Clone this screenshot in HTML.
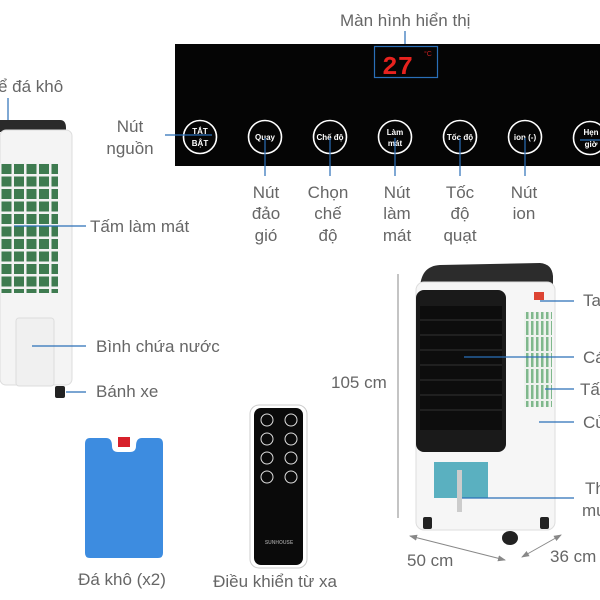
<!DOCTYPE html>
<html><head><meta charset="utf-8"><style>
html,body{margin:0;padding:0;background:#fff;width:600px;height:600px;overflow:hidden}
svg text{font-family:"Liberation Sans","DejaVu Sans",sans-serif;fill:#666;font-size:17px}
.b text{fill:#fff;font-size:8px;font-weight:bold;text-anchor:middle}
</style></head><body>
<svg width="600" height="600" viewBox="0 0 600 600" xmlns="http://www.w3.org/2000/svg">
<defs>
<pattern id="g" width="12.5" height="12.5" patternUnits="userSpaceOnUse"><rect width="12.5" height="12.5" fill="#f2f2f2"/><rect x="1.5" y="1.5" width="10" height="10" fill="#3e7b50"/></pattern>
<pattern id="g2" width="5" height="16" patternUnits="userSpaceOnUse"><rect width="5" height="16" fill="#eef2ee"/><rect x="1" y="1" width="2.5" height="14" fill="#7fb88c"/></pattern>
<marker id="ah" markerWidth="8" markerHeight="8" refX="7" refY="4" orient="auto-start-reverse"><path d="M0,1 L8,4 L0,7z" fill="#888"/></marker>
</defs>
<text x="340" y="26">Màn hình hiển thị</text>
<line x1="405" y1="31" x2="405" y2="46" stroke="#2a6fb8" stroke-width="1.2"/>
<rect x="175" y="44" width="425" height="122" fill="#050505"/>
<rect x="374.5" y="46.5" width="63" height="31" fill="none" stroke="#2a6fb8" stroke-width="1.2"/>
<text x="382" y="74" style="fill:#e8221e;font-size:26px;font-family:'Liberation Mono',monospace;font-weight:bold">27</text>
<text x="424" y="56" style="fill:#c02020;font-size:7px">°C</text>
<g fill="none" stroke="#fff" stroke-width="1.6">
<circle cx="200" cy="137" r="16.5"/><circle cx="265" cy="137" r="16.5"/><circle cx="330" cy="137" r="16.5"/><circle cx="395" cy="137" r="16.5"/><circle cx="460" cy="137" r="16.5"/><circle cx="525" cy="137" r="16.5"/><circle cx="590" cy="138" r="16.5"/>
</g>
<g class="b">
<text x="200" y="134">TẮT</text><text x="200" y="146">BẬT</text>
<text x="265" y="140">Quay</text><text x="330" y="140">Chế độ</text>
<text x="395" y="135">Làm</text><text x="395" y="146">mát</text>
<text x="460" y="140">Tốc độ</text><text x="525" y="140">ion (-)</text>
<text x="591" y="135">Hẹn</text><text x="591" y="147">giờ</text>
</g>
<g stroke="#2a6fb8" stroke-width="1.2">
<line x1="165" y1="135" x2="212" y2="135"/>
<line x1="265" y1="138" x2="265" y2="176"/><line x1="330" y1="138" x2="330" y2="176"/>
<line x1="395" y1="138" x2="395" y2="176"/><line x1="460" y1="138" x2="460" y2="176"/>
<line x1="525" y1="138" x2="525" y2="176"/><line x1="580" y1="140" x2="600" y2="140"/>
</g>
<text x="130" y="132" text-anchor="middle">Nút</text><text x="130" y="154" text-anchor="middle">nguồn</text>
<text x="266" y="198" text-anchor="middle">Nút</text><text x="266" y="219" text-anchor="middle">đảo</text><text x="266" y="241" text-anchor="middle">gió</text>
<text x="328" y="198" text-anchor="middle">Chọn</text><text x="328" y="219" text-anchor="middle">chế</text><text x="328" y="241" text-anchor="middle">độ</text>
<text x="397" y="198" text-anchor="middle">Nút</text><text x="397" y="219" text-anchor="middle">làm</text><text x="397" y="241" text-anchor="middle">mát</text>
<text x="460" y="198" text-anchor="middle">Tốc</text><text x="460" y="219" text-anchor="middle">độ</text><text x="460" y="241" text-anchor="middle">quạt</text>
<text x="524" y="198" text-anchor="middle">Nút</text><text x="524" y="219" text-anchor="middle">ion</text>
<text x="-2" y="92">ể đá khô</text>
<line x1="8" y1="98" x2="8" y2="121" stroke="#2a6fb8" stroke-width="1.2"/>
<path d="M0,120 H60 Q66,120 66,128 V132 H0z" fill="#2a2a2a"/>
<rect x="0" y="130" width="72" height="255" rx="6" fill="#f4f4f4" stroke="#ddd"/>
<rect x="0" y="163" width="58" height="130" fill="url(#g)"/>
<rect x="16" y="318" width="38" height="68" rx="3" fill="#f0f0f0" stroke="#ddd"/>
<rect x="55" y="386" width="10" height="12" rx="2" fill="#222"/>
<g stroke="#2a6fb8" stroke-width="1.2">
<line x1="14" y1="226" x2="86" y2="226"/><line x1="32" y1="346" x2="86" y2="346"/><line x1="66" y1="392" x2="86" y2="392"/>
</g>
<text x="90" y="232">Tấm làm mát</text>
<text x="96" y="352">Bình chứa nước</text>
<text x="96" y="397">Bánh xe</text>
<path d="M90,438 H106 Q112,438 112,446 Q112,452 118,452 H130 Q136,452 136,446 Q136,438 142,438 H158 Q163,438 163,444 V553 Q163,558 158,558 H90 Q85,558 85,553 V444 Q85,438 90,438z" fill="#3d8ce0"/>
<rect x="118" y="437" width="12" height="10" fill="#d7202a"/>
<text x="122" y="585" text-anchor="middle">Đá khô (x2)</text>
<rect x="250" y="405" width="57" height="163" rx="9" fill="#fff" stroke="#ccc"/>
<rect x="254" y="408" width="49" height="157" rx="7" fill="#0a0a0a"/>
<g fill="none" stroke="#ddd" stroke-width="1">
<circle cx="267" cy="420" r="6"/><circle cx="291" cy="420" r="6"/><circle cx="267" cy="439" r="6"/><circle cx="291" cy="439" r="6"/><circle cx="267" cy="458" r="6"/><circle cx="291" cy="458" r="6"/><circle cx="267" cy="477" r="6"/><circle cx="291" cy="477" r="6"/>
</g>
<text x="279" y="544" text-anchor="middle" style="fill:#888;font-size:5px;font-weight:bold">SUNHOUSE</text>
<text x="275" y="587" text-anchor="middle">Điều khiển từ xa</text>
<line x1="398" y1="274" x2="398" y2="518" stroke="#888" stroke-width="1"/>
<text x="331" y="388">105 cm</text>
<path d="M420,290 Q420,266 440,265 L540,263 Q552,264 553,276 V290z" fill="#2c2c2c"/>
<rect x="416" y="282" width="139" height="248" rx="8" fill="#f6f6f6" stroke="#ddd"/>
<rect x="416" y="290" width="90" height="162" rx="8" fill="#1a1a1a"/>
<rect x="420" y="306" width="82" height="124" fill="#0d0d0d"/>
<g stroke="#333" stroke-width="1"><line x1="420" y1="320" x2="502" y2="320"/><line x1="420" y1="335" x2="502" y2="335"/><line x1="420" y1="350" x2="502" y2="350"/><line x1="420" y1="365" x2="502" y2="365"/><line x1="420" y1="380" x2="502" y2="380"/><line x1="420" y1="395" x2="502" y2="395"/><line x1="420" y1="410" x2="502" y2="410"/></g>
<rect x="524" y="312" width="28" height="95" fill="url(#g2)"/>
<rect x="534" y="292" width="10" height="8" fill="#d43"/>
<rect x="434" y="462" width="54" height="36" fill="#5ab0c0"/>
<rect x="457" y="470" width="5" height="42" fill="#ccc"/>
<rect x="423" y="517" width="9" height="12" rx="2" fill="#222"/><rect x="540" y="517" width="9" height="12" rx="2" fill="#222"/>
<ellipse cx="510" cy="538" rx="8" ry="7" fill="#222"/>
<g stroke="#2a6fb8" stroke-width="1.2">
<line x1="540" y1="301" x2="574" y2="301"/><line x1="464" y1="357" x2="574" y2="357"/><line x1="545" y1="389" x2="574" y2="389"/><line x1="539" y1="422" x2="574" y2="422"/><line x1="462" y1="498" x2="574" y2="498"/>
</g>
<text x="583" y="306">Ta</text><text x="583" y="363">Cá</text><text x="580" y="395">Tấ</text><text x="583" y="428">Cử</text><text x="585" y="494">Th</text><text x="582" y="516">mu</text>
<line x1="410" y1="536" x2="505" y2="560" stroke="#888" marker-end="url(#ah)" marker-start="url(#ah)"/>
<line x1="522" y1="557" x2="561" y2="535" stroke="#888" marker-end="url(#ah)" marker-start="url(#ah)"/>
<text x="407" y="566">50 cm</text>
<text x="550" y="562">36 cm</text>
</svg>
</body></html>
